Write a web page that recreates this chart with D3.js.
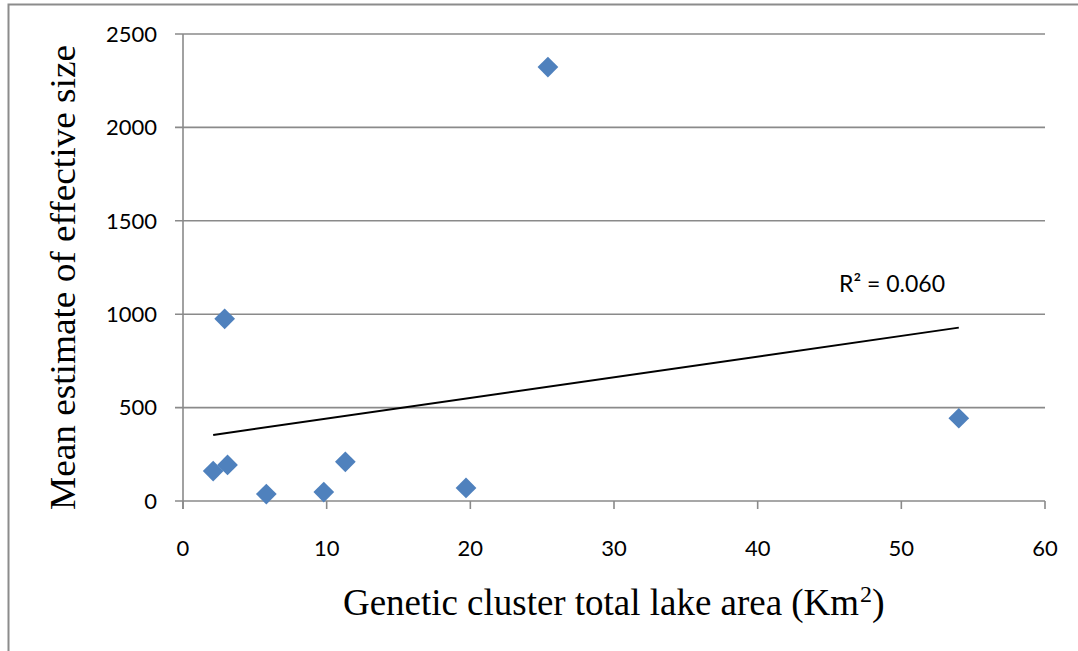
<!DOCTYPE html>
<html>
<head>
<meta charset="utf-8">
<script src="https://cdn.jsdelivr.net/npm/d3@7"></script>
<style>
  body { margin: 0; background: #fff; }
  svg { display: block; }
</style>
</head>
<body>
<svg id="chart" width="1078" height="651"></svg>
<script>
// lake area (Km2) and mean Ne estimate
var lakeArea = [2.1, 3.1, 2.9, 5.8, 9.8, 11.3, 19.7, 25.4, 54.0]
var meanNe = [160, 193, 975, 37, 48, 210, 70, 2323, 443]
var xTicks = [0, 10, 20, 30, 40, 50, 60]
var yTicks = [0, 500, 1000, 1500, 2000, 2500]
var rSquaredLabel = 'R² = 0.060'

let margin = { top: 34, right: 33, bottom: 150, left: 183 }
let W = 1078, H = 651

let svg = d3.select('#chart')

// outer chart border (only top + left visible in the original crop)
svg.append('path')
    .attr('d', `M8.5,651 L8.5,4.5 L1078,4.5`)
    .style('fill', 'none')
    .style('stroke', '#8c8c8c')
    .style('stroke-width', 2)

let x = d3.scaleLinear().domain([0, 60]).range([margin.left, W - margin.right])
let y = d3.scaleLinear().domain([0, 2500]).range([H - margin.bottom, margin.top])

let g = svg.append('g')

// horizontal gridlines
g.selectAll('.grid').data(yTicks).join('line')
    .attr('class', 'grid')
    .attr('x1', x(0) - 8).attr('x2', x(60))
    .attr('y1', d => y(d)).attr('y2', d => y(d))
    .style('stroke', '#8a8a8a')
    .style('stroke-width', 1.6)

// y axis line
g.append('line')
    .attr('x1', x(0)).attr('x2', x(0))
    .attr('y1', y(2500)).attr('y2', y(0) + 8)
    .style('stroke', '#8a8a8a')
    .style('stroke-width', 1.6)

// x ticks
g.selectAll('.xtick').data(xTicks).join('line')
    .attr('class', 'xtick')
    .attr('x1', d => x(d)).attr('x2', d => x(d))
    .attr('y1', y(0)).attr('y2', y(0) + 8)
    .style('stroke', '#8a8a8a')
    .style('stroke-width', 1.6)

let tickFont = 'Lato, "Open Sans", sans-serif'

g.selectAll('.ylab').data(yTicks).join('text')
    .attr('class', 'ylab')
    .attr('x', x(0) - 26)
    .attr('y', d => y(d))
    .attr('dy', '0.35em')
    .attr('text-anchor', 'end')
    .style('font-family', tickFont)
    .style('font-size', '22px')
    .style('fill', '#000')
    .text(d => d)

g.selectAll('.xlab').data(xTicks).join('text')
    .attr('class', 'xlab')
    .attr('x', d => x(d))
    .attr('y', y(0) + 47)
    .attr('dy', '0.35em')
    .attr('text-anchor', 'middle')
    .style('font-family', tickFont)
    .style('font-size', '22px')
    .style('fill', '#000')
    .text(d => d)

// linear trendline (least squares)
let mx = d3.mean(lakeArea), my = d3.mean(meanNe)
let sxy = d3.sum(lakeArea, (d, i) => (d - mx) * (meanNe[i] - my))
let sxx = d3.sum(lakeArea, d => (d - mx) * (d - mx))
let slope = sxy / sxx
let intercept = my - slope * mx
let xExt = d3.extent(lakeArea)

g.append('line')
    .attr('x1', x(xExt[0])).attr('y1', y(intercept + slope * xExt[0]))
    .attr('x2', x(xExt[1])).attr('y2', y(intercept + slope * xExt[1]))
    .style('stroke', '#000')
    .style('stroke-width', 2)

g.append('text')
    .attr('x', 839)
    .attr('y', 292)
    .style('font-family', tickFont)
    .style('font-size', '23px')
    .style('fill', '#000')
    .text(rSquaredLabel)

// diamond markers
let diamond = d3.symbol().type(d3.symbolSquare).size(215)
g.selectAll('.pt').data(lakeArea).join('path')
    .attr('class', 'pt')
    .attr('d', diamond)
    .attr('transform', (d, i) => `translate(${x(d)},${y(meanNe[i])}) rotate(45)`)
    .style('fill', '#4f81bd')

// axis titles
let titleFont = '"Liberation Serif", "Times New Roman", serif'

let xt = svg.append('text')
    .attr('x', 343)
    .attr('y', 615)
    .style('font-family', titleFont)
    .style('font-size', '38px')
    .style('fill', '#000')
xt.append('tspan')
    .attr('textLength', 516)
    .attr('lengthAdjust', 'spacingAndGlyphs')
    .text('Genetic cluster total lake area (Km')
xt.append('tspan')
    .attr('dx', 1)
    .attr('dy', -13)
    .style('font-size', '24px')
    .text('2')
xt.append('tspan')
    .attr('dy', 13)
    .text(')')

svg.append('text')
    .attr('transform', 'translate(75,510) rotate(-90)')
    .attr('textLength', 465)
    .attr('lengthAdjust', 'spacingAndGlyphs')
    .style('font-family', titleFont)
    .style('font-size', '35px')
    .style('fill', '#000')
    .text('Mean estimate of effective size')
</script>
</body>
</html>
